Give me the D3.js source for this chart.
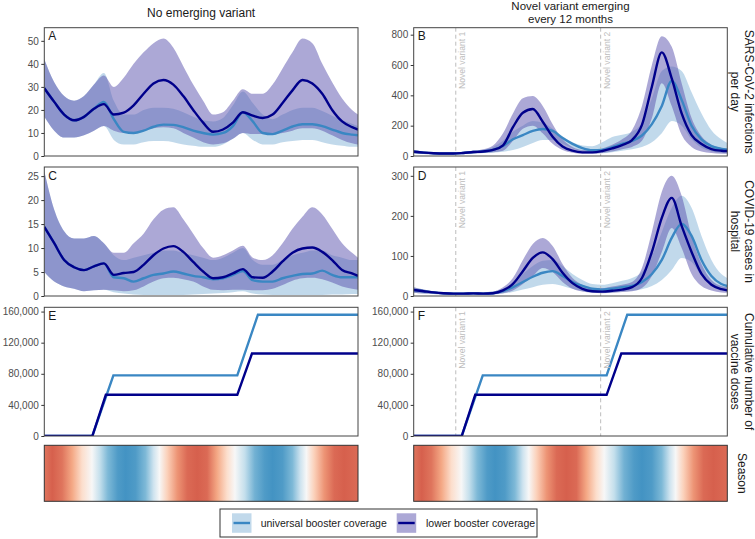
<!DOCTYPE html>
<html><head><meta charset="utf-8">
<script src="https://cdn.jsdelivr.net/npm/d3@7"></script>
<style>body{margin:0;background:#fff}svg{display:block;font-family:"Liberation Sans",Arial,sans-serif}</style>
</head><body><svg id="c" width="755" height="539"></svg>
<script>
// ---------- data ----------
const days = [0,25,50,75,100,125,150,175,200,225,250,275,300,325,350,375,400,425,450,475,500,525,550,575,600,625,650,675,700,725,750,775,790];

// A: infections, no emerging variant
const aUniMed = [29.4,23.5,18,15.5,17,20.5,23.5,16,10.5,10,11,12.7,13.6,13.5,12.5,11,10,9.3,10,13,19,15,10,9.5,11,12.8,13.8,13.8,13,11.5,10,9.3,9];
const aUniLo  = [17,11,8,8,9,11,13,7,5,5,6,6.5,6.5,6,5,4.5,4,4,5,7.5,10,7,5,5,6,6.5,7,7,6,5,4.5,4,4];
const aUniHi  = [42,32,26,24,26,31,36,24,18,18,20,21,21,20.5,19,17,15.5,15,16.5,22,28,23,18,16,18,20,21,21,19.5,17.5,15.5,14,13];
const aLowMed = [29.4,23.5,18,15.5,17,20.5,22.5,18,18.8,22,27,31.5,33,31,26,20,14.5,10.5,11.5,14.5,19,17.5,16.5,18,23,28.5,33,31.5,27,20,15,12.5,11.5];
const aLowLo  = [17,11,8,8,9,11,13,11,10,10,11,12,12.5,12,10,8,6,5,5.5,7.5,10,9.5,9.5,9.5,10,11,12,12,11,9,7,5.5,5];
const aLowHi  = [42,32,26,24,26,31,35,30,34,40,45,49,51,47,39,31,24,18,19,24,29,27,27,31,38,45,51,49,40,32,25,20,18];

// B: infections, novel variant every 12 months
const bUniMed = [28,22,18,16,16,20,26,30,40,66,110,138,165,178,165,118,80,52,38,40,58,80,100,135,210,330,495,370,200,110,65,47,42];
const bUniLo  = [18,14,12,11,11,13,17,20,22,28,40,60,85,105,105,80,50,30,20,18,25,35,45,60,90,150,230,200,110,55,30,20,18];
const bUniHi  = [40,30,25,22,22,28,35,42,60,100,160,200,230,220,180,130,90,70,65,90,125,140,160,220,380,560,590,560,420,280,170,110,85];
const bLowMed = [28,22,18,16,16,20,26,30,40,70,190,285,310,226,127,62,35,24,24,33,50,72,105,205,457,683,512,281,138,79,46,35,33];
const bLowLo  = [18,14,12,11,11,13,17,20,25,35,100,180,200,150,80,40,22,15,15,20,30,45,60,100,250,480,330,140,60,30,20,15,15];
const bLowHi  = [40,30,25,22,22,28,35,45,70,150,280,380,395,330,210,110,60,40,38,50,75,110,170,330,600,790,720,480,250,130,75,55,50];

// C: hospital, no emerging variant
const cUniMed = [14.4,11,7.5,6,5.4,6.2,6.8,3.9,3.7,3,3.7,4.4,4.7,5.1,4.7,4.2,3.9,3.5,3.7,4.4,5.2,3.3,3,3,3.7,4.2,4.6,4.7,5.3,4.4,3.9,3.9,3.9];
const cUniLo  = [5,3,2,1.5,1,1.2,1.3,0.8,0.5,0.3,0.2,0.2,0.2,0.2,0.2,0.3,0.4,0.5,0.6,0.8,1,0.5,0.3,0.2,0.2,0.2,0.2,0.2,0.2,0.3,0.3,0.4,0.4];
const cUniHi  = [26,18,13.5,12,12,12.5,11,8.5,7.5,8,8.5,9,9.5,9.5,9,8.5,8,7.5,8,9,10,7.5,6.5,6.5,7.5,8.5,9,9.5,9.5,8.5,8,7.5,7.5];
const cLowMed = [14.4,11,7.5,6,5.4,6.2,6.8,4.4,4.8,5,6.5,8.5,9.9,10.4,9.2,7.1,5.1,3.7,3.9,4.7,5.6,3.9,3.8,5.1,7.2,9,9.9,10.1,9.2,7.5,5.4,4.7,4.2];
const cLowLo  = [5,3,2,1.5,1,1.2,1.3,1.2,1,1.2,2,3,3.7,3.8,3.5,3,2,1.3,1.2,1.3,1.3,1.2,1.2,1.5,2.3,3.2,3.7,3.8,3.5,2.8,2,1.5,1.3];
const cLowHi  = [26,18,13.5,12,12,12.5,11,9,9,11,13,16,18,18.5,16,13,10,8,8.5,9.5,10.5,8,7.5,8.5,11,14,16.5,18.5,17,14,11,9,8];

// D: hospital, novel variant
const dUniMed = [15,12,9,7,6,6,6.5,6,7,12,22,35,48,58,62,50,35,25,18,16,18,22,25,35,55,90,145,180,150,90,50,30,25];
const dUniLo  = [8,6,5,4,4,4,4,4,4.5,6,10,16,22,28,30,25,18,12,9,8,9,11,13,17,25,40,65,95,85,50,28,17,14];
const dUniHi  = [22,16,12,9,8,8,9,9,11,18,32,55,75,88,90,75,55,40,30,28,32,38,45,60,100,160,220,250,220,150,90,55,45];
const dLowMed = [15,12,9,7,6,6,6.5,6,7,14,30,62,95,109,92,58,32,18,12,11,13,16,22,45,110,195,245,175,110,55,28,17,14];
const dLowLo  = [8,6,5,4,4,4,4,4,4.5,7,14,30,50,70,60,35,18,11,8,7,8,10,12,20,50,110,170,120,55,25,14,9,8];
const dLowHi  = [22,16,12,9,8,8,9,9,11,22,45,90,130,145,125,80,45,28,20,20,24,28,35,70,160,260,300,250,150,80,40,25,22];

// E/F: cumulative vaccine doses
const vaxUniDays = [0,121,174,486,538,790];
const vaxUni     = [0,0,78000,78000,156000,156000];
const vaxLowDays = [0,121,155,486,523,790];
const vaxLow     = [0,0,53000,53000,106000,106000];

// Season strip (1 = red / winter, -1 = blue / summer)
const seasonDays   = [0,20,45,70,95,120,140,160,185,205,230,255,275,290,310,335,360,385,410,435,460,480,505,530,555,575,600,625,645,660,680,705,730,755,790];
const seasonValues = [0.9,1,0.9,0.65,0.3,0,-0.4,-0.75,-0.95,-1,-0.95,-0.75,-0.35,0,0.4,0.75,0.95,1,0.95,0.65,0.3,0,-0.4,-0.8,-0.95,-1,-0.95,-0.75,-0.35,0,0.4,0.75,0.95,1,0.95];
const seasonPalette = ["#4393c3","#92c5de","#d1e5f0","#f7f7f7","#fddbc7","#f4a582","#d6604d"];

// Novel variant markers
const variantDays   = [106, 471];
const variantLabels = ["Novel variant 1", "Novel variant 2"];

// Labels
const colTitles = [["No emerging variant"], ["Novel variant emerging", "every 12 months"]];
const rowTitles = [["SARS-CoV-2 infections","per day"],["COVID-19 cases in","hospital"],["Cumulative number of","vaccine doses"],["Season"]];
const legendLabels = ["universal booster coverage", "lower booster coverage"];
const ticksA = [0,10,20,30,40,50], ticksB = [0,200,400,600,800], ticksC = [0,5,10,15,20,25], ticksD = [0,100,200,300], ticksE = [0,40000,80000,120000,160000];

// ---------- styling ----------
const UNI_LINE = "#3a87c3", LOW_LINE = "#00008b";
const UNI_FILL = "rgba(49,130,189,0.3)", LOW_FILL = "rgba(89,81,173,0.5)";
const BORDER = "#444", TICKTXT = "#4d4d4d";

const svg = d3.select("#c");
const cols = [{x0:44.3,x1:358},{x0:413.7,x1:727.3}];
const rows = [{y0:27.7,y1:156},{y0:167,y1:296},{y0:307.3,y1:436}];
const seasonRow = {y0:445.3,y1:501.3};
const dayMax = 790;

const panels = [
  {c:0,r:0,letter:"A",max:55.7,ticks:ticksA,fmt:d3.format("d"),uni:[aUniMed,aUniLo,aUniHi],low:[aLowMed,aLowLo,aLowHi]},
  {c:1,r:0,letter:"B",max:846,ticks:ticksB,fmt:d3.format("d"),uni:[bUniMed,bUniLo,bUniHi],low:[bLowMed,bLowLo,bLowHi]},
  {c:0,r:1,letter:"C",max:26.9,ticks:ticksC,fmt:d3.format("d"),uni:[cUniMed,cUniLo,cUniHi],low:[cLowMed,cLowLo,cLowHi]},
  {c:1,r:1,letter:"D",max:322,ticks:ticksD,fmt:d3.format("d"),uni:[dUniMed,dUniLo,dUniHi],low:[dLowMed,dLowLo,dLowHi]},
  {c:0,r:2,letter:"E",max:165500,ticks:ticksE,fmt:d3.format(","),vax:true},
  {c:1,r:2,letter:"F",max:165500,ticks:ticksE,fmt:d3.format(","),vax:true}
];

panels.forEach((p,i) => {
  const col = cols[p.c], row = rows[p.r];
  const x = d3.scaleLinear().domain([0,dayMax]).range([col.x0,col.x1]);
  const y = d3.scaleLinear().domain([0,p.max]).range([row.y1,row.y0]);
  const clipId = "clip"+i;
  svg.append("clipPath").attr("id",clipId).append("rect")
    .attr("x",col.x0).attr("y",row.y0).attr("width",col.x1-col.x0).attr("height",row.y1-row.y0);
  const g = svg.append("g").attr("clip-path",`url(#${clipId})`);

  if (!p.vax) {
    const area = (lo,hi) => d3.area().curve(d3.curveMonotoneX)
      .x((d,k)=>x(days[k])).y0((d,k)=>y(lo[k])).y1((d,k)=>y(hi[k]))(days);
    g.append("path").attr("d",area(p.uni[1],p.uni[2])).attr("fill",UNI_FILL);
    g.append("path").attr("d",area(p.low[1],p.low[2])).attr("fill",LOW_FILL);
  }
  if (p.c===1) {
    variantDays.forEach(vd => {
      g.append("line").attr("x1",x(vd)).attr("x2",x(vd)).attr("y1",row.y0).attr("y2",row.y1)
        .attr("stroke","#bdbdbd").attr("stroke-width",1).attr("stroke-dasharray","4,3");
    });
  }
  if (!p.vax) {
    const line = vals => d3.line().curve(d3.curveMonotoneX).x((d,k)=>x(days[k])).y((d,k)=>y(vals[k]))(days);
    g.append("path").attr("d",line(p.uni[0])).attr("fill","none").attr("stroke",UNI_LINE).attr("stroke-width",2.4).attr("stroke-linejoin","round");
    g.append("path").attr("d",line(p.low[0])).attr("fill","none").attr("stroke",LOW_LINE).attr("stroke-width",2.4).attr("stroke-linejoin","round");
  } else {
    const vline = (ds,vs) => d3.line().x((d,k)=>x(ds[k])).y((d,k)=>y(vs[k]))(ds);
    g.append("path").attr("d",vline(vaxUniDays,vaxUni)).attr("fill","none").attr("stroke",UNI_LINE).attr("stroke-width",2.4);
    g.append("path").attr("d",vline(vaxLowDays,vaxLow)).attr("fill","none").attr("stroke",LOW_LINE).attr("stroke-width",2.4);
  }
  if (p.c===1) {
    variantDays.forEach((vd,k) => {
      svg.append("text").attr("transform",`translate(${x(vd)+9.5},${row.y0+4}) rotate(-90)`)
        .attr("text-anchor","end").attr("font-size",8.6).attr("fill","#bdbdbd").text(variantLabels[k]);
    });
  }
  svg.append("rect").attr("x",col.x0).attr("y",row.y0).attr("width",col.x1-col.x0).attr("height",row.y1-row.y0)
    .attr("fill","none").attr("stroke",BORDER).attr("stroke-width",1);
  const ax = svg.append("g").attr("transform",`translate(${col.x0},0)`)
    .call(d3.axisLeft(y).tickValues(p.ticks).tickFormat(p.fmt).tickSize(3).tickPadding(2.5));
  ax.select(".domain").remove();
  ax.selectAll(".tick line").attr("stroke","#333");
  ax.selectAll(".tick text").attr("fill",TICKTXT).attr("font-size",10).attr("font-family","Liberation Sans, Arial, sans-serif");
  svg.append("text").attr("x",col.x0+4).attr("y",row.y0+12.5).attr("font-size",12).attr("fill","#1a1a1a").text(p.letter);
});

// season strips
const defs = svg.append("defs");
const grad = defs.append("linearGradient").attr("id","seasonGrad").attr("x1","0%").attr("x2","100%").attr("y1","0%").attr("y2","0%");
const seasonColor = d3.scaleLinear().domain(d3.range(7).map(k=>-1+k/3)).range(seasonPalette).interpolate(d3.interpolateRgb);
seasonDays.forEach((d,k) => grad.append("stop").attr("offset",(d/dayMax*100)+"%").attr("stop-color",seasonColor(seasonValues[k])));
cols.forEach(col => {
  svg.append("rect").attr("x",col.x0).attr("y",seasonRow.y0).attr("width",col.x1-col.x0).attr("height",seasonRow.y1-seasonRow.y0)
    .attr("fill","url(#seasonGrad)").attr("stroke","#333").attr("stroke-width",1);
});

// column titles
colTitles.forEach((lines,c) => {
  const cx = (cols[c].x0+cols[c].x1)/2;
  const n = lines.length;
  lines.forEach((t,k) => {
    svg.append("text").attr("x",cx).attr("y", n===1 ? 16.5 : 10 + k*13)
      .attr("text-anchor","middle").attr("font-size", n===1 ? 12 : 11.5).attr("fill","#1a1a1a").text(t);
  });
});

// row titles (right strips)
const rowCenters = rows.map(r=>(r.y0+r.y1)/2).concat([(seasonRow.y0+seasonRow.y1)/2]);
rowTitles.forEach((lines,r) => {
  const g = svg.append("g").attr("transform",`translate(742,${rowCenters[r]}) rotate(90)`);
  const n = lines.length, lh = 13.5;
  lines.forEach((t,k) => {
    g.append("text").attr("x",0).attr("y",(k-(n-1)/2)*lh).attr("dy","0.35em")
      .attr("text-anchor","middle").attr("font-size",12).attr("fill","#1a1a1a").text(t);
  });
});

// legend
const lg = svg.append("g");
lg.append("rect").attr("x",220).attr("y",509).attr("width",317).attr("height",28).attr("fill","#fff").attr("stroke","#333").attr("stroke-width",1);
const keys = [{x:232,fill:UNI_FILL,line:UNI_LINE,tx:260.7},{x:396.7,fill:LOW_FILL,line:LOW_LINE,tx:426}];
keys.forEach((k,i) => {
  lg.append("rect").attr("x",k.x).attr("y",513.3).attr("width",19.5).attr("height",19.5).attr("fill",k.fill);
  lg.append("line").attr("x1",k.x+1.5).attr("x2",k.x+18).attr("y1",523).attr("y2",523).attr("stroke",k.line).attr("stroke-width",2.4);
  lg.append("text").attr("x",k.tx).attr("y",523).attr("dy","0.35em").attr("font-size",10.5).attr("fill","#1a1a1a").text(legendLabels[i]);
});
</script>
</body></html>
